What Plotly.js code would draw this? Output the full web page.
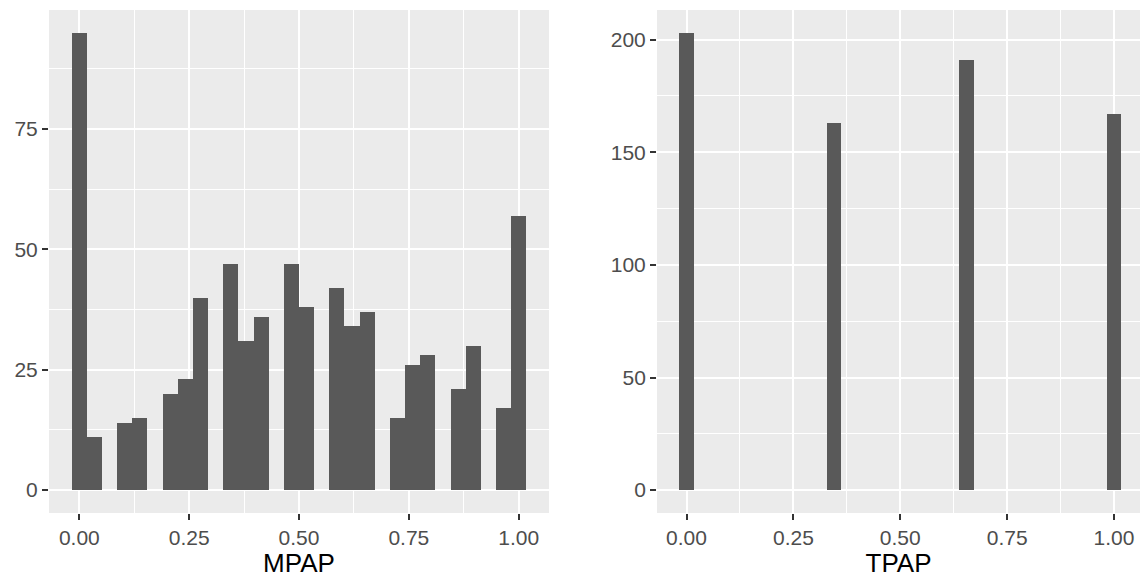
<!DOCTYPE html>
<html>
<head>
<meta charset="utf-8">
<script src="https://cdn.plot.ly/plotly-3.0.1.min.js"></script>
<style>html,body{margin:0;padding:0;background:#fff;}#chart{width:1140px;height:578px;}</style>
</head>
<body>
<div id="chart"></div>
<script>
// MPAP histogram (30 bins, width 1/29): bin centres and counts
var mpapBins = [0, 0.0345, 0.1034, 0.1379, 0.2069, 0.2414, 0.2759, 0.3448, 0.3793, 0.4138, 0.4828, 0.5172, 0.5862, 0.6207, 0.6552, 0.7241, 0.7586, 0.7931, 0.8621, 0.8966, 0.9655, 1.0];
var mpapCounts = [95, 11, 14, 15, 20, 23, 40, 47, 31, 36, 47, 38, 42, 34, 37, 15, 26, 28, 21, 30, 17, 57];
// TPAP histogram
var tpapBins = [0, 0.3448, 0.6552, 1.0];
var tpapCounts = [203, 163, 191, 167];
var binWidth = 1 / 29;
var xTicks = [0, 0.25, 0.5, 0.75, 1];
var xTickText = ["0.00", "0.25", "0.50", "0.75", "1.00"];
var mpapYTicks = [0, 25, 50, 75];
var tpapYTicks = [0, 50, 100, 150, 200];

var barColor = '#595959';
var font = 'Liberation Sans, Arial, sans-serif';

function bars(x, y, xa, ya) {
  return {
    type: 'bar', x: x, y: y, xaxis: xa, yaxis: ya,
    width: x.map(function () { return binWidth; }),
    marker: {color: barColor, line: {width: 0}},
    hoverinfo: 'x+y', showlegend: false
  };
}

function xAxis(domain, range, title) {
  return {
    domain: domain, range: range, anchor: domain[0] === 0 ? 'y' : 'y2',
    tickvals: xTicks, ticktext: xTickText,
    ticks: 'outside', ticklen: 6, tickwidth: 2, tickcolor: '#333333',
    tickfont: {family: font, size: 21, color: '#4D4D4D'},
    showgrid: true, gridcolor: '#FFFFFF', gridwidth: 2,
    minor: {tickvals: [0.125, 0.375, 0.625, 0.875], showgrid: true, gridcolor: '#FFFFFF', gridwidth: 1, ticks: ''},
    zeroline: false, showline: false,
    title: {text: title, font: {family: font, size: 26, color: '#000000'}, standoff: 4}
  };
}

function yAxis(range, tickvals, minorvals, anchor) {
  return {
    domain: [0, 1], range: range, anchor: anchor,
    tickvals: tickvals,
    ticks: 'outside', ticklen: 6, tickwidth: 2, tickcolor: '#333333',
    tickfont: {family: font, size: 21, color: '#4D4D4D'},
    showgrid: true, gridcolor: '#FFFFFF', gridwidth: 2,
    minor: {tickvals: minorvals, showgrid: true, gridcolor: '#FFFFFF', gridwidth: 1, ticks: ''},
    zeroline: false, showline: false
  };
}

var data = [
  bars(mpapBins, mpapCounts, 'x', 'y'),
  bars(tpapBins, tpapCounts, 'x2', 'y2')
];

var layout = {
  width: 1140, height: 578,
  margin: {l: 49, r: 0, t: 10, b: 65},
  paper_bgcolor: '#FFFFFF',
  plot_bgcolor: '#EBEBEB',
  font: {family: font},
  bargap: 0,
  xaxis: xAxis([0, 0.4583], [-0.0690, 1.0690], 'MPAP'),
  yaxis: yAxis([-4.75, 99.75], mpapYTicks, [12.5, 37.5, 62.5, 87.5], 'x'),
  xaxis2: xAxis([0.5573, 1], [-0.0690, 1.0608], 'TPAP'),
  yaxis2: yAxis([-10.15, 213.15], tpapYTicks, [25, 75, 125, 175], 'x2'),
  shapes: []
};
layout.xaxis.anchor = 'y';
layout.xaxis2.anchor = 'y2';

Plotly.newPlot('chart', data, layout, {displayModeBar: false, staticPlot: true});
</script>
</body>
</html>
